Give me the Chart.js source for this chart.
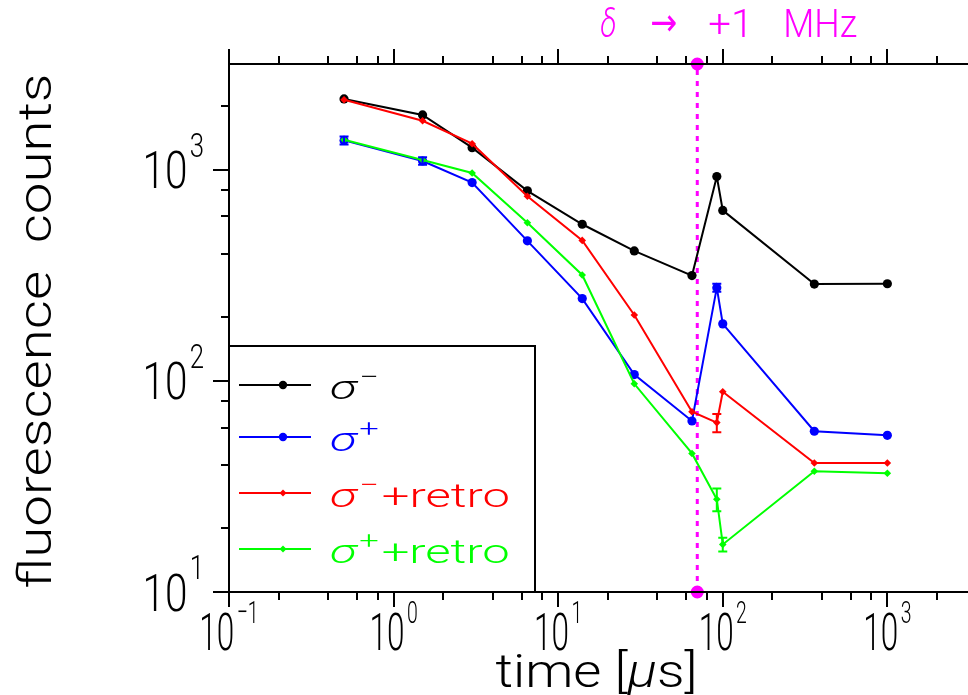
<!DOCTYPE html>
<html>
<head>
<meta charset="utf-8">
<script src="https://cdn.jsdelivr.net/npm/chart.js@4.4.1/dist/chart.umd.min.js"></script>
<style>
  html, body { margin: 0; padding: 0; background: #fff; overflow: hidden; }
  canvas { display: block; }
</style>
</head>
<body>
<canvas id="c" width="968" height="695"></canvas>
<script>
// Delay after the detuning step [µs]
const times = [0.5, 1.5, 3, 6.5, 14, 29, 65, 92, 100, 360, 1000];

// Fluorescence counts for each polarisation configuration
const sigmaMinus      = [2160, 1815, 1270, 793, 551, 412, 315, 927, 641, 287, 288];
const sigmaPlus       = [1375, 1098, 868, 460, 245, 107, 64.5, 276, 186, 57.7, 55.2];
const sigmaMinusRetro = [2140, 1702, 1326, 748, 462, 205, 71.4, 63.4, 88.7, 40.8, 40.8];
const sigmaPlusRetro  = [1385, 1110, 964, 560, 317, 96.8, 45.3, 27.5, 16.8, 37.3, 36.5];

// Uncertainties (0 = no error bar)
const sigmaMinusErr      = [0, 0, 0, 0, 0, 0, 0, 0, 0, 0, 0];
const sigmaPlusErr       = [60, 45, 0, 0, 0, 0, 0, 12, 0, 0, 0];
const sigmaMinusRetroErr = [0, 0, 0, 0, 0, 0, 0, 6.3, 0, 0, 0];
const sigmaPlusRetroErr  = [0, 0, 0, 0, 0, 0, 0, 3.4, 1.25, 0, 0];

// Series legend text: symbol, superscript, suffix
const seriesSymbol = ['σ', 'σ', 'σ', 'σ'];
const seriesSup    = ['−', '+', '−', '+'];
const seriesSuffix = ['', '', '+retro', '+retro'];
const seriesColor  = ['#000000', '#0000ff', '#ff0000', '#00ff00'];

// Moment the detuning is stepped
const detuningTime = [70];
const detuningText = ['δ', '→', '+1', 'MHz'];

// Axis ranges and tick labels
const xRange = [0.1, 3090];
const yRange = [10, 3162];
const xDecades = [0.1, 1, 10, 100, 1000];
const xDecadeExp = ['−1', '0', '1', '2', '3'];
const yDecades = [10, 100, 1000];
const yDecadeExp = ['1', '2', '3'];
const minorSteps = [2, 4, 6, 8];
const xTitle = ['time [', 'μ', 's]'];
const yTitle = 'fluorescence  counts';

const MAGENTA = '#ff00ff';
const FONT = 'Roboto, "Liberation Sans", sans-serif';
const f = (size, style) => `${style || ''} 300 ${size}px ${FONT}`;
const ARROW_FONT = '38px "DejaVu Sans", sans-serif';

// Draw a sequence of text runs, compressed horizontally by factor s
function runsWidth(ctx, runs) {
  let w = 0;
  runs.forEach(r => { ctx.font = r.font; r.w = ctx.measureText(r.t).width + (r.gap || 0); w += r.w; });
  return w;
}
function drawRuns(ctx, runs, x, y, s, align, color) {
  ctx.save();
  const total = runsWidth(ctx, runs) * s;
  const start = align === 'center' ? x - total / 2 : align === 'right' ? x - total : x;
  ctx.translate(start, y);
  ctx.scale(s, 1);
  ctx.textAlign = 'left';
  ctx.textBaseline = 'alphabetic';
  ctx.fillStyle = color;
  let cx = 0;
  runs.forEach(r => { ctx.font = r.font; ctx.fillText(r.t, cx, r.dy || 0); cx += r.w; });
  ctx.restore();
}
function squeezeFor(ctx, font, text, width) {
  ctx.font = font;
  return width / ctx.measureText(text).width;
}

const errorBars = {
  id: 'errorBars',
  afterDatasetsDraw(chart) {
    const ctx = chart.ctx, xs = chart.scales.x, ys = chart.scales.y;
    chart.data.datasets.forEach(ds => {
      if (!ds.errors) return;
      ctx.save();
      ctx.strokeStyle = ds.borderColor;
      ctx.lineWidth = 2;
      ds.data.forEach((p, i) => {
        const e = ds.errors[i];
        if (!e) return;
        const px = xs.getPixelForValue(p.x);
        const yt = ys.getPixelForValue(p.y + e);
        const yb = ys.getPixelForValue(p.y - e);
        ctx.beginPath();
        ctx.moveTo(px, yt); ctx.lineTo(px, yb);
        ctx.moveTo(px - 4.5, yt); ctx.lineTo(px + 4.5, yt);
        ctx.moveTo(px - 4.5, yb); ctx.lineTo(px + 4.5, yb);
        ctx.stroke();
      });
      ctx.restore();
    });
  }
};

const frame = {
  id: 'frame',
  afterDraw(chart) {
    const ctx = chart.ctx, xs = chart.scales.x, ys = chart.scales.y;
    const a = chart.chartArea;
    ctx.save();
    ctx.strokeStyle = '#000';
    ctx.lineWidth = 2;
    ctx.lineCap = 'butt';

    // Legend box
    const lgTop = 346, lgRight = 535;
    ctx.fillStyle = '#fff';
    ctx.fillRect(a.left, lgTop, lgRight - a.left, a.bottom - lgTop);
    ctx.strokeRect(a.left, lgTop, lgRight - a.left, a.bottom - lgTop);

    // Axis lines
    ctx.beginPath();
    ctx.moveTo(a.right + 2, a.top); ctx.lineTo(a.left, a.top); ctx.lineTo(a.left, a.bottom); ctx.lineTo(a.right + 2, a.bottom);
    ctx.stroke();

    // x ticks (bottom and top, outward)
    const xTicks = [];
    xDecades.forEach(d => {
      xTicks.push({ v: d, major: true });
      minorSteps.forEach(m => { if (m * d <= xRange[1]) xTicks.push({ v: m * d, major: false }); });
    });
    ctx.beginPath();
    xTicks.forEach(t => {
      const px = Math.round(xs.getPixelForValue(t.v));
      const len = t.major ? 15 : 8;
      ctx.moveTo(px, a.bottom); ctx.lineTo(px, a.bottom + len);
      ctx.moveTo(px, a.top); ctx.lineTo(px, a.top - len);
    });
    // y ticks (left, outward)
    const yTicks = [];
    yDecades.forEach(d => {
      yTicks.push({ v: d, major: true });
      minorSteps.forEach(m => { if (m * d <= yRange[1]) yTicks.push({ v: m * d, major: false }); });
    });
    yTicks.forEach(t => {
      const py = Math.round(ys.getPixelForValue(t.v));
      const len = t.major ? 16 : 8;
      ctx.moveTo(a.left, py); ctx.lineTo(a.left - len, py);
    });
    ctx.stroke();

    // x tick labels: 10 with superscript exponent, centred on the tick
    const sx = squeezeFor(ctx, f(52), '10', 35);
    xDecades.forEach((d, i) => {
      const px = xs.getPixelForValue(d);
      drawRuns(ctx, [
        { t: '10', font: f(52), gap: 4 },
        { t: xDecadeExp[i], font: f(32), dy: -27 }
      ], px, a.bottom + 58, sx, 'center', '#000');
    });
    // y tick labels, right-aligned next to the ticks
    const sy = squeezeFor(ctx, f(52), '10', 45);
    yDecades.forEach((d, i) => {
      const py = ys.getPixelForValue(d);
      drawRuns(ctx, [
        { t: '10', font: f(52), gap: 3 },
        { t: yDecadeExp[i], font: f(33), dy: -31.5 }
      ], 204, py + 18.5, sy, 'right', '#000');
    });

    // Axis titles
    const xRuns = [
      { t: xTitle[0], font: f(47) },
      { t: xTitle[1], font: f(47, 'italic') },
      { t: xTitle[2], font: f(47) }
    ];
    const sxt = 202 / runsWidth(ctx, xRuns);
    drawRuns(ctx, xRuns, (a.left + a.right) / 2 - 2, 687, sxt, 'center', '#000');

    ctx.save();
    ctx.translate(51, (a.top + a.bottom) / 2 + 3);
    ctx.rotate(-Math.PI / 2);
    const yRuns = [{ t: yTitle, font: f(46) }];
    const syt = 515 / runsWidth(ctx, yRuns);
    drawRuns(ctx, yRuns, 0, 0, syt, 'center', '#000');
    ctx.restore();

    // Legend entries
    const rowY = [385, 437, 493, 549];
    const legendRuns = i => [
      { t: seriesSymbol[i], font: f(34, 'italic'), gap: 2 },
      { t: seriesSup[i], font: f(24), dy: -14, gap: 2 },
      { t: seriesSuffix[i], font: f(34) }
    ];
    const sl = 180 / runsWidth(ctx, legendRuns(2));
    chart.data.datasets.forEach((ds, i) => {
      if (i > 3) return;
      const y = rowY[i];
      ctx.strokeStyle = ds.borderColor;
      ctx.lineWidth = 2;
      ctx.beginPath(); ctx.moveTo(239, y); ctx.lineTo(311, y); ctx.stroke();
      ctx.fillStyle = ds.borderColor;
      ctx.beginPath();
      if (i < 2) ctx.arc(283, y, 4.2, 0, Math.PI * 2);
      else { ctx.moveTo(283, y - 3.5); ctx.lineTo(286.5, y); ctx.lineTo(283, y + 3.5); ctx.lineTo(279.5, y); ctx.closePath(); }
      ctx.fill();
      drawRuns(ctx, legendRuns(i), 330, y + 13.5, sl, 'left', ds.borderColor);
    });

    // Detuning annotation above the plot
    const lx = xs.getPixelForValue(detuningTime[0]);
    const pieces = [
      { t: detuningText[0], font: f(38, 'italic'), dx: -97, w: 16, y: 37 },
      { t: detuningText[1], font: ARROW_FONT, dx: -47, w: 27, y: 35 },
      { t: detuningText[2], font: f(38), dx: 11, w: 45, y: 37 },
      { t: detuningText[3], font: f(38), dx: 86, w: 74, y: 37 }
    ];
    pieces.forEach(p => {
      const s = squeezeFor(ctx, p.font, p.t, p.w);
      drawRuns(ctx, [{ t: p.t, font: p.font }], lx + p.dx, p.y, s, 'left', MAGENTA);
    });
    ctx.restore();
  }
};

const pointsOf = vals => times.map((t, i) => ({ x: t, y: vals[i] }));

const datasets = [
  { label: 'σ−', data: pointsOf(sigmaMinus), errors: sigmaMinusErr, borderColor: seriesColor[0], backgroundColor: seriesColor[0],
    pointStyle: 'circle', pointRadius: 4.6, order: 4 },
  { label: 'σ+', data: pointsOf(sigmaPlus), errors: sigmaPlusErr, borderColor: seriesColor[1], backgroundColor: seriesColor[1],
    pointStyle: 'circle', pointRadius: 4.6, order: 3 },
  { label: 'σ−+retro', data: pointsOf(sigmaMinusRetro), errors: sigmaMinusRetroErr, borderColor: seriesColor[2], backgroundColor: seriesColor[2],
    pointStyle: 'rectRot', pointRadius: 3.8, order: 2 },
  { label: 'σ++retro', data: pointsOf(sigmaPlusRetro), errors: sigmaPlusRetroErr, borderColor: seriesColor[3], backgroundColor: seriesColor[3],
    pointStyle: 'rectRot', pointRadius: 3.8, order: 1 },
  { label: 'detuning step', data: [{ x: detuningTime[0], y: yRange[0] }, { x: detuningTime[0], y: yRange[1] }],
    borderColor: MAGENTA, backgroundColor: MAGENTA, borderDash: [5, 6], borderWidth: 3,
    pointStyle: 'circle', pointRadius: 5, clip: false, order: 10 }
];
datasets.forEach((d, i) => {
  if (i < 4) { d.borderWidth = 2; d.pointBorderWidth = 0; }
  d.showLine = true;
  d.tension = 0;
  d.pointHoverRadius = d.pointRadius;
});

new Chart(document.getElementById('c'), {
  type: 'scatter',
  data: { datasets },
  options: {
    responsive: false,
    devicePixelRatio: 1,
    animation: false,
    events: [],
    layout: { autoPadding: false, padding: { left: 229, top: 64, right: 0, bottom: 103 } },
    plugins: { legend: { display: false }, tooltip: { enabled: false }, title: { display: false } },
    scales: {
      x: { type: 'logarithmic', min: xRange[0], max: xRange[1], display: false },
      y: { type: 'logarithmic', min: yRange[0], max: yRange[1], display: false }
    }
  },
  plugins: [errorBars, frame]
});
</script>
</body>
</html>
